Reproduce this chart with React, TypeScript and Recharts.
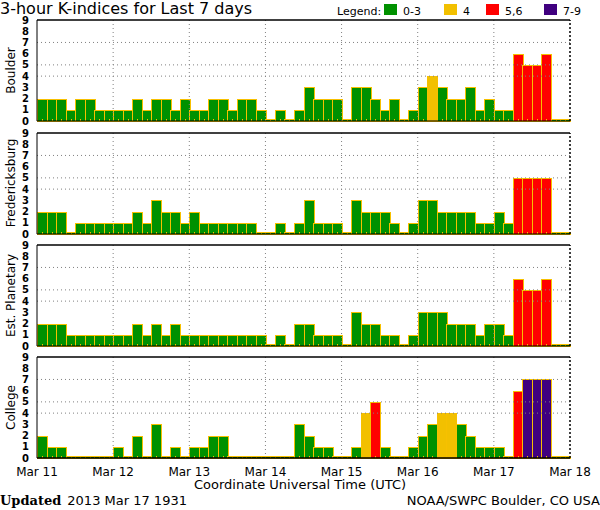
import React from 'react';
import { BarChart, Bar, XAxis, YAxis, ReferenceLine } from 'recharts';

// K-index values, 8 per day, Mar 11 00 UTC .. Mar 17 21 UTC
const boulder = [
  2, 2, 2, 1, 2, 2, 1, 1,
  1, 1, 2, 1, 2, 2, 1, 2,
  1, 1, 2, 2, 1, 2, 2, 1,
  0, 1, 0, 1, 3, 2, 2, 2,
  0, 3, 3, 2, 1, 2, 0, 1,
  3, 4, 3, 2, 2, 3, 1, 2,
  1, 1, 6, 5, 5, 6, 0, 0,
];
const fredericksburg = [
  2, 2, 2, 0, 1, 1, 1, 1,
  1, 1, 2, 1, 3, 2, 2, 1,
  2, 1, 1, 1, 1, 1, 1, 0,
  0, 1, 0, 1, 3, 1, 1, 1,
  0, 3, 2, 2, 2, 1, 0, 1,
  3, 3, 2, 2, 2, 2, 1, 1,
  2, 1, 5, 5, 5, 5, 0, 0,
];
const planetary = [
  2, 2, 2, 1, 1, 1, 1, 1,
  1, 1, 2, 1, 2, 1, 2, 1,
  1, 1, 1, 1, 1, 1, 1, 1,
  0, 1, 0, 2, 2, 1, 1, 1,
  0, 3, 2, 2, 1, 1, 0, 1,
  3, 3, 3, 2, 2, 2, 1, 2,
  2, 1, 6, 5, 5, 6, 0, 0,
];
const college = [
  2, 1, 1, 0, 0, 0, 0, 0,
  1, 0, 2, 0, 3, 0, 1, 0,
  1, 1, 2, 2, 0, 0, 0, 0,
  0, 0, 0, 3, 2, 1, 1, 0,
  0, 1, 4, 5, 1, 0, 0, 1,
  2, 3, 4, 4, 3, 2, 1, 1,
  1, 0, 6, 7, 7, 7, 0, 0,
];

const stations = ['Boulder', 'Fredericksburg', 'Est. Planetary', 'College'];
const days = ['Mar 11', 'Mar 12', 'Mar 13', 'Mar 14', 'Mar 15', 'Mar 16', 'Mar 17', 'Mar 18'];
const kTicks = [0, 1, 2, 3, 4, 5, 6, 7, 8, 9];
const legendLabels = ['0-3', '4', '5,6', '7-9'];

const GREEN = '#009100';
const YELLOW = '#f2c000';
const RED = '#ff0000';
const PURPLE = '#40007f';
const EDGE = '#f7c000';
const GRID = '#808080';
const FONT = '"DejaVu Sans", sans-serif';

const legendColors = [GREEN, YELLOW, RED, PURPLE];

const colorFor = (k: number) => (k <= 3 ? GREEN : k === 4 ? YELLOW : k <= 6 ? RED : PURPLE);

const PLOT_LEFT = 37;
const PLOT_RIGHT = 570;
const PLOT_H = 101;
const plotTops = [20, 132.5, 245, 357];
const PAD = 7;

const KBar = (props: any) => {
  const { x, y, width, height, payload } = props;
  const c = colorFor(payload.k);
  const x0 = Math.round(x);
  const x1 = Math.round(x + width);
  const y0 = Math.round(y);
  const y1 = Math.round(y + height);
  const cx = Math.round(x + width / 2) + 0.5;
  return (
    <g shapeRendering="crispEdges">
      <rect x={x0} y={y0} width={x1 - x0} height={y1 - y0} fill={c} />
      <rect x={x0 + 0.5} y={y0 + 0.5} width={x1 - x0} height={y1 - y0 - 0.5} fill="none" stroke={EDGE} strokeWidth={1} />
      <line x1={cx} x2={cx} y1={y1} y2={y1 - 2} stroke={EDGE} strokeWidth={1} />
    </g>
  );
};

function Panel({ values, top, showX }: { values: number[]; top: number; showX: boolean }) {
  const rows = values.map((k, i) => ({ pos: i + 0.5, k }));
  const xH = showX ? 24 : 0;
  return (
    <div style={{ position: 'absolute', left: 0, top: top - PAD }}>
      <BarChart
        width={600}
        height={PLOT_H + PAD + (showX ? xH : PAD)}
        data={rows}
        margin={{ top: PAD, right: 600 - PLOT_RIGHT, bottom: showX ? 0 : PAD, left: 0 }}
        barCategoryGap="0%"
        barGap="0%"
      >
        <XAxis xAxisId="cat" type="category" dataKey="pos" orientation="top" height={0} hide />
        <XAxis
          xAxisId="t"
          type="number"
          dataKey="pos"
          domain={[0, 56]}
          ticks={[0, 8, 16, 24, 32, 40, 48, 56]}
          tickFormatter={(v: number) => days[v / 8]}
          hide={!showX}
          height={xH}
          tickLine={false}
          axisLine={{ stroke: '#000' }}
          tick={{ fill: '#000', fontSize: 12, fontFamily: FONT }}
          tickMargin={3}
          interval={0}
        />
        <YAxis
          type="number"
          domain={[0, 9]}
          ticks={kTicks}
          interval={0}
          width={PLOT_LEFT}
          tickLine={false}
          axisLine={{ stroke: '#000' }}
          tick={{ fill: '#000', fontSize: 10, fontWeight: 'bold', fontFamily: FONT }}
          tickMargin={2}
        />
        <Bar xAxisId="cat" dataKey="k" minPointSize={2} shape={KBar} isAnimationActive={false} />
        {[4, 5, 7].map((v) => (
          <ReferenceLine key={'h' + v} xAxisId="t" y={v} stroke={GRID} strokeDasharray="1 3" />
        ))}
        {[8, 16, 24, 32, 40, 48].map((v) => (
          <ReferenceLine key={'v' + v} xAxisId="t" x={v} stroke={GRID} strokeDasharray="1 3" />
        ))}
        <ReferenceLine xAxisId="t" y={9} stroke="#000" strokeWidth={1.5} />
        <ReferenceLine xAxisId="t" y={0} stroke="#000" />
        <ReferenceLine xAxisId="t" x={56} stroke="#000" strokeDasharray="2 2" strokeWidth={1.5} />
      </BarChart>
    </div>
  );
}

export default function App() {
  const series = [boulder, fredericksburg, planetary, college];
  return (
    <div style={{ position: 'relative', width: 600, height: 510, background: '#fff', overflow: 'hidden' }}>
      <style>{'body{margin:0}'}</style>
      {series.map((vals, i) => (
        <Panel key={stations[i]} values={vals} top={plotTops[i]} showX={i === 3} />
      ))}
      <svg width={600} height={510} style={{ position: 'absolute', left: 0, top: 0, pointerEvents: 'none' }} fontFamily={FONT}>
        <text x={0} y={14} fontSize={16} fill="#000">3-hour K-indices for Last 7 days</text>
        <text x={337} y={15} fontSize={11} fill="#000">Legend:</text>
        {legendLabels.map((lab, i) => {
          const bx = [384, 444, 486, 544][i];
          return (
            <g key={lab}>
              <rect x={bx} y={4} width={13} height={11} fill={legendColors[i]} />
              <text x={bx + 19} y={15} fontSize={11} fill="#000">{lab}</text>
            </g>
          );
        })}
        {stations.map((s, i) => {
          const cy = plotTops[i] + PLOT_H / 2;
          return (
            <text key={s} x={15} y={cy} fontSize={12} textAnchor="middle" transform={`rotate(-90 15 ${cy})`} fill="#000">
              {s}
            </text>
          );
        })}
        <text x={300} y={489} fontSize={13} textAnchor="middle" fill="#000">Coordinate Universal Time (UTC)</text>
        <text x={0} y={505} fontSize={13} fill="#000">
          <tspan fontFamily='"DejaVu Serif", serif' fontWeight="bold">Updated</tspan>
          <tspan dx={6}>2013 Mar 17 1931</tspan>
        </text>
        <text x={600} y={505} fontSize={13} textAnchor="end" fill="#000">NOAA/SWPC Boulder, CO USA</text>
      </svg>
    </div>
  );
}
